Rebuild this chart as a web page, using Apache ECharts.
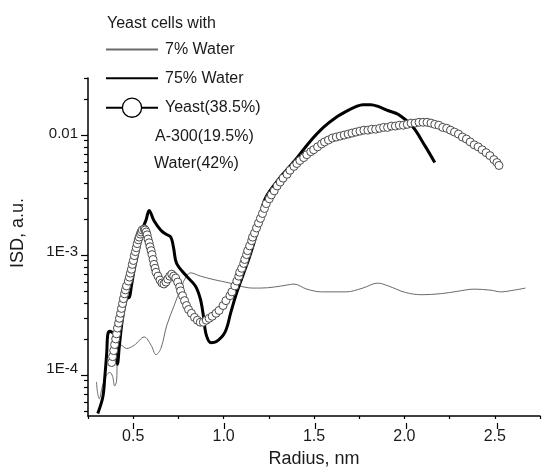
<!DOCTYPE html>
<html>
<head>
<meta charset="utf-8">
<script src="https://cdn.jsdelivr.net/npm/echarts@6/dist/echarts.min.js"></script>
<style>
  html, body { margin: 0; padding: 0; background: #fff; }
  #chart { width: 543px; height: 473px; }
</style>
</head>
<body>
<div id="chart"></div>
<script>
// ISD curves, radius in nm vs ISD in a.u. (log scale)
var water7 = [
  [0.297, 7.8e-5], [0.303, 6.3e-5], [0.312, 5.6e-5], [0.33, 7.2e-5], [0.35, 8.8e-5],
  [0.37, 9.4e-5], [0.386, 8.7e-5], [0.397, 7.2e-5], [0.408, 7.9e-5], [0.413, 1.26e-4],
  [0.435, 1.6e-4], [0.463, 1.5e-4], [0.506, 1.6e-4], [0.561, 1.88e-4], [0.599, 1.6e-4],
  [0.626, 1.33e-4], [0.653, 1.5e-4], [0.686, 2.37e-4], [0.724, 3.4e-4], [0.768, 5.1e-4],
  [0.795, 6.2e-4], [0.817, 6.6e-4], [0.871, 6.2e-4], [0.942, 5.8e-4], [1.035, 5.4e-4],
  [1.089, 5.1e-4], [1.16, 4.9e-4], [1.204, 4.9e-4], [1.28, 5.0e-4], [1.35, 5.2e-4],
  [1.389, 5.3e-4], [1.46, 4.8e-4], [1.542, 4.55e-4], [1.678, 4.55e-4], [1.77, 4.9e-4],
  [1.852, 5.4e-4], [1.912, 5.1e-4], [2.005, 4.5e-4], [2.097, 4.3e-4], [2.206, 4.4e-4],
  [2.294, 4.6e-4], [2.386, 4.8e-4], [2.479, 4.7e-4], [2.533, 4.55e-4], [2.604, 4.7e-4],
  [2.67, 4.9e-4]
];

var water75 = [
  [0.304, 4.2e-5], [0.332, 5.8e-5], [0.343, 8.6e-5], [0.354, 1.41e-4], [0.359, 1.96e-4],
  [0.37, 2.1e-4], [0.381, 2.07e-4], [0.397, 1.96e-4], [0.408, 1.41e-4], [0.413, 1.1e-4],
  [0.424, 1.61e-4], [0.441, 2.7e-4], [0.463, 3.98e-4], [0.479, 4.1e-4], [0.49, 5.11e-4],
  [0.506, 7.08e-4], [0.533, 1.1e-3], [0.55, 1.52e-3], [0.572, 1.88e-3], [0.588, 2.24e-3],
  [0.615, 1.83e-3], [0.653, 1.52e-3], [0.68, 1.41e-3], [0.708, 1.33e-3], [0.724, 1.06e-3],
  [0.74, 7.94e-4], [0.795, 6.19e-4], [0.844, 5.11e-4], [0.871, 3.98e-4], [0.888, 2.87e-4],
  [0.904, 1.96e-4], [0.931, 1.68e-4], [0.958, 1.71e-4], [1.008, 2.07e-4], [1.04, 3.04e-4],
  [1.067, 4.22e-4], [1.105, 6.19e-4], [1.144, 9.09e-4], [1.187, 1.5e-3], [1.225, 2.71e-3],
  [1.296, 3.98e-3], [1.389, 5.84e-3], [1.476, 8.58e-3], [1.552, 0.0114], [1.623, 0.0139],
  [1.678, 0.0156], [1.732, 0.0171], [1.77, 0.0178], [1.814, 0.0178], [1.858, 0.0171],
  [1.912, 0.0158], [1.967, 0.0147], [2.043, 0.0117], [2.114, 7.94e-3], [2.168, 5.73e-3]
];

var yeast = [
  [0.381, 1.14e-4], [0.386, 1.28e-4], [0.392, 1.44e-4], [0.397, 1.62e-4], [0.403, 1.81e-4],
  [0.408, 2.0e-4], [0.413, 2.24e-4], [0.419, 2.47e-4], [0.424, 2.71e-4], [0.43, 2.99e-4],
  [0.435, 3.29e-4], [0.441, 3.62e-4], [0.446, 3.98e-4], [0.452, 4.38e-4], [0.457, 4.73e-4],
  [0.463, 5.11e-4], [0.473, 5.62e-4], [0.479, 6.07e-4], [0.484, 6.56e-4], [0.49, 7.08e-4],
  [0.495, 7.79e-4], [0.501, 8.41e-4], [0.506, 9.26e-4], [0.512, 1.0e-3], [0.517, 1.08e-3],
  [0.522, 1.17e-3], [0.528, 1.26e-3], [0.533, 1.33e-3], [0.539, 1.41e-3], [0.544, 1.47e-3],
  [0.55, 1.53e-3], [0.561, 1.56e-3], [0.566, 1.53e-3], [0.572, 1.47e-3], [0.577, 1.39e-3],
  [0.582, 1.28e-3], [0.588, 1.19e-3], [0.593, 1.10e-3], [0.599, 1.02e-3], [0.604, 9.44e-4],
  [0.61, 8.58e-4], [0.615, 7.79e-4], [0.621, 7.22e-4], [0.626, 6.68e-4], [0.637, 6.19e-4],
  [0.648, 5.73e-4], [0.659, 5.41e-4], [0.67, 5.31e-4], [0.681, 5.51e-4], [0.691, 5.84e-4],
  [0.702, 6.19e-4], [0.713, 6.43e-4], [0.724, 6.19e-4], [0.735, 5.96e-4], [0.746, 5.51e-4],
  [0.757, 5.01e-4], [0.762, 4.64e-4], [0.773, 4.22e-4], [0.784, 3.83e-4], [0.795, 3.48e-4],
  [0.806, 3.22e-4], [0.822, 2.99e-4], [0.839, 2.76e-4], [0.855, 2.61e-4], [0.871, 2.51e-4],
  [0.888, 2.51e-4], [0.904, 2.61e-4], [0.92, 2.71e-4], [0.937, 2.82e-4], [0.958, 2.99e-4],
  [0.975, 3.16e-4], [0.997, 3.48e-4], [1.013, 3.83e-4], [1.035, 4.22e-4], [1.046, 4.55e-4],
  [1.062, 5.11e-4], [1.073, 5.62e-4], [1.084, 6.19e-4], [1.089, 6.68e-4], [1.1, 7.22e-4],
  [1.111, 7.94e-4], [1.117, 8.58e-4], [1.127, 9.44e-4], [1.133, 1.02e-3], [1.144, 1.12e-3],
  [1.155, 1.24e-3], [1.16, 1.33e-3], [1.171, 1.44e-3], [1.182, 1.59e-3], [1.193, 1.75e-3],
  [1.204, 1.92e-3], [1.215, 2.11e-3], [1.226, 2.33e-3], [1.236, 2.56e-3], [1.253, 2.82e-3],
  [1.264, 3.04e-3], [1.28, 3.29e-3], [1.296, 3.62e-3], [1.313, 3.91e-3], [1.329, 4.22e-3],
  [1.351, 4.55e-3], [1.367, 4.92e-3], [1.389, 5.31e-3], [1.405, 5.62e-3], [1.422, 5.96e-3],
  [1.443, 6.31e-3], [1.46, 6.68e-3], [1.482, 7.08e-3], [1.498, 7.36e-3], [1.52, 7.79e-3],
  [1.542, 8.25e-3], [1.558, 8.58e-3], [1.58, 8.91e-3], [1.602, 9.26e-3], [1.623, 9.44e-3],
  [1.645, 9.62e-3], [1.667, 9.81e-3], [1.689, 0.0100], [1.71, 0.0102], [1.732, 0.0104],
  [1.754, 0.0106], [1.776, 0.0108], [1.798, 0.0108], [1.819, 0.0110], [1.841, 0.0110],
  [1.863, 0.0112], [1.885, 0.0114], [1.907, 0.0114], [1.928, 0.0117], [1.95, 0.0117],
  [1.972, 0.0119], [1.994, 0.0119], [2.016, 0.0121], [2.037, 0.0124], [2.059, 0.0124],
  [2.081, 0.0126], [2.103, 0.0126], [2.125, 0.0126], [2.147, 0.0124], [2.168, 0.0121],
  [2.19, 0.0119], [2.212, 0.0114], [2.234, 0.0112], [2.255, 0.0108], [2.277, 0.0104],
  [2.299, 0.0100], [2.321, 9.44e-3], [2.343, 9.08e-3], [2.364, 8.58e-3], [2.386, 8.1e-3],
  [2.408, 7.79e-3], [2.43, 7.36e-3], [2.452, 6.95e-3], [2.473, 6.56e-3], [2.495, 6.07e-3],
  [2.512, 5.73e-3], [2.523, 5.41e-3]
];

var seriesNames = ['7% Water', '75% Water', 'Yeast(38.5%)'];
var xTicksMajor = [0.5, 1.0, 1.5, 2.0, 2.5];
var yTicksMajor = [1e-4, 1e-3, 0.01];
var yLabels = ['1E-4', '1E-3', '0.01'];
var yTicksMinor = [5e-5, 6e-5, 7e-5, 8e-5, 9e-5,
  2e-4, 3e-4, 4e-4, 5e-4, 6e-4, 7e-4, 8e-4, 9e-4,
  2e-3, 3e-3, 4e-3, 5e-3, 6e-3, 7e-3, 8e-3, 9e-3, 0.02, 0.03];
var xMin = 0.25, xMax = 2.75;
var yMin = 4e-5, yMax = 0.03;

var font = 'Liberation Sans, Arial, sans-serif';
var ink = '#1a1a1a';
var tickStyle = { color: '#000', width: 1.2 };
var plot = { left: 88, top: 78, width: 459, height: 345 };

// an axis that only draws tick marks at the given values
function tickAxis(values, len, extra) {
  var ax = {
    type: 'value',
    axisLine: { show: false },
    axisTick: { show: true, length: len, customValues: values, lineStyle: tickStyle },
    axisLabel: { show: false },
    splitLine: { show: false }
  };
  return Object.assign(ax, extra);
}

var chart = echarts.init(document.getElementById('chart'));

chart.setOption({
  animation: false,
  backgroundColor: '#fff',
  textStyle: { fontFamily: font },
  // three grids on the same rectangle: main plot, major ticks, minor y ticks
  grid: [Object.assign({}, plot), Object.assign({}, plot), Object.assign({}, plot)],
  legend: {
    orient: 'vertical',
    left: 105,
    top: 40,
    padding: 0,
    itemWidth: 52,
    itemHeight: 24,
    itemGap: 9.5,
    textStyle: { fontSize: 16, color: ink, fontFamily: font, padding: [0, 0, 0, 2] },
    data: [
      { name: seriesNames[0], itemStyle: { opacity: 0 } },
      { name: seriesNames[1], itemStyle: { opacity: 0 } },
      {
        name: seriesNames[2],
        lineStyle: { color: '#000', width: 2, opacity: 1 },
        itemStyle: { color: '#fff', borderColor: '#000', borderWidth: 1.3 }
      }
    ]
  },
  graphic: [
    { type: 'text', left: 107, top: 16, style: { text: 'Yeast cells with', fontSize: 16, fill: ink, fontFamily: font } },
    { type: 'text', left: 155, top: 129, style: { text: 'A-300(19.5%)', fontSize: 16, fill: ink, fontFamily: font } },
    { type: 'text', left: 154, top: 156, style: { text: 'Water(42%)', fontSize: 16, fill: ink, fontFamily: font } },
    {
      type: 'text', x: 18, y: 233, rotation: Math.PI / 2,
      style: { text: 'ISD, a.u.', fontSize: 18, fill: ink, fontFamily: font, align: 'center', verticalAlign: 'middle' }
    }
  ],
  xAxis: [
    {
      type: 'value', gridIndex: 0, min: xMin, max: xMax, interval: 0.25,
      name: 'Radius, nm', nameLocation: 'middle', nameGap: 34,
      nameTextStyle: { fontSize: 18, color: ink, fontFamily: font },
      axisLine: { show: true, lineStyle: { color: '#000', width: 1.5 } },
      axisTick: { show: true, length: 3, lineStyle: tickStyle },
      axisLabel: {
        fontSize: 16, color: ink, margin: 13,
        formatter: function (v) {
          return Math.abs(v * 2 - Math.round(v * 2)) < 1e-6 ? v.toFixed(1) : '';
        }
      },
      splitLine: { show: false }
    },
    tickAxis(xTicksMajor, 6, { gridIndex: 1, min: xMin, max: xMax, position: 'bottom' }),
    { type: 'value', gridIndex: 2, min: xMin, max: xMax, show: false }
  ],
  yAxis: [
    {
      type: 'log', logBase: 10, gridIndex: 0, min: yMin, max: yMax,
      axisLine: { show: true, lineStyle: { color: '#000', width: 1.5 } },
      axisTick: { show: false },
      axisLabel: {
        fontSize: 15, color: ink, margin: 10,
        showMinLabel: false, showMaxLabel: false,
        formatter: function (v) {
          var i = yTicksMajor.findIndex(function (t) { return Math.abs(Math.log10(v) - Math.log10(t)) < 1e-6; });
          return i >= 0 ? yLabels[i] : '';
        }
      },
      splitLine: { show: false }
    },
    // tick marks only; the same tick values expressed as log10
    tickAxis(yTicksMajor.map(Math.log10), 7, { gridIndex: 1, min: Math.log10(yMin), max: Math.log10(yMax), position: 'left' }),
    tickAxis(yTicksMinor.map(Math.log10), 4, { gridIndex: 2, min: Math.log10(yMin), max: Math.log10(yMax), position: 'left' })
  ],
  series: [
    {
      name: seriesNames[0], type: 'line', data: water7, smooth: 0.35,
      symbol: 'none', lineStyle: { color: '#6a6a6a', width: 1 }, itemStyle: { color: '#6a6a6a' }
    },
    {
      name: seriesNames[1], type: 'line', data: water75, smooth: 0.35,
      symbol: 'none', lineStyle: { color: '#000', width: 3 }, itemStyle: { color: '#000' }
    },
    {
      name: seriesNames[2], type: 'line', data: yeast,
      symbol: 'circle', symbolSize: 8, showAllSymbol: true,
      lineStyle: { opacity: 0 },
      itemStyle: { color: '#fff', borderColor: '#4a4a4a', borderWidth: 1 }
    }
  ]
});
</script>
</body>
</html>
